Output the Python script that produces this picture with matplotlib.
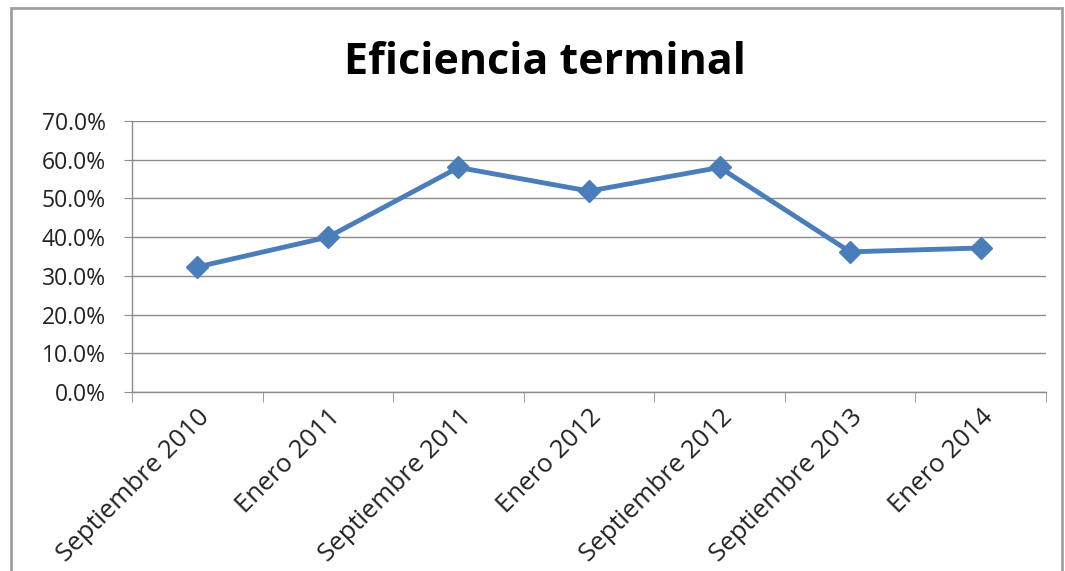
import matplotlib.pyplot as plt
import matplotlib.patches as mpatches
from matplotlib.ticker import FuncFormatter, FixedLocator

# data
periods = ['Septiembre 2010', 'Enero 2011', 'Septiembre 2011', 'Enero 2012',
           'Septiembre 2012', 'Septiembre 2013', 'Enero 2014']
eficiencia = [0.323, 0.400, 0.580, 0.519, 0.580, 0.362, 0.372]
y_ticks = [0.0, 0.1, 0.2, 0.3, 0.4, 0.5, 0.6, 0.7]

plt.rcParams['font.family'] = ['Open Sans', 'DejaVu Sans']

fig = plt.figure(figsize=(10.65, 5.71), dpi=100)

# outer chart frame
frame = mpatches.Rectangle((11 / 1065, -0.01), (1062 - 11) / 1065, 1 - 8 / 571 + 0.01,
                           transform=fig.transFigure, fill=False,
                           edgecolor='#a0a0a0', linewidth=2)
fig.patches.append(frame)

ax = fig.add_axes([132 / 1065, 1 - 392 / 571, (1046 - 132) / 1065, (392 - 121) / 571])

x = list(range(len(periods)))
ax.plot(x, eficiencia, color='#4a7ebb', linewidth=3.5, marker='D', markersize=11,
        zorder=3)

ax.set_xlim(-0.5, len(periods) - 0.5)
ax.set_ylim(0, 0.7)
ax.set_yticks(y_ticks)
ax.yaxis.set_major_formatter(FuncFormatter(lambda v, p: f'{v * 100:.1f}%'))
ax.grid(axis='y', color='#8c8c8c', linewidth=1)
ax.set_axisbelow(True)

# category labels centred on points, tick marks between categories
ax.set_xticks(x)
ax.set_xticklabels(periods, rotation=45, ha='right', rotation_mode='anchor', fontsize=18.5)
ax.xaxis.set_minor_locator(FixedLocator([i - 0.5 for i in range(len(periods) + 1)]))
ax.tick_params(axis='x', which='major', length=0, pad=9)
ax.tick_params(axis='x', which='minor', length=7, color='#8c8c8c', direction='out')
ax.tick_params(axis='y', length=6, color='#8c8c8c', labelsize=16.5, pad=13, labelcolor='#222222')
ax.tick_params(axis='x', labelcolor='#222222')

for s in ['top', 'right']:
    ax.spines[s].set_visible(False)
for s in ['left', 'bottom']:
    ax.spines[s].set_color('#8c8c8c')
    ax.spines[s].set_linewidth(1)

fig.text(545 / 1065, 1 - 62 / 571, 'Eficiencia terminal', ha='center', va='center',
         fontsize=31, fontweight='bold')

fig.savefig('out.png', dpi=100)
